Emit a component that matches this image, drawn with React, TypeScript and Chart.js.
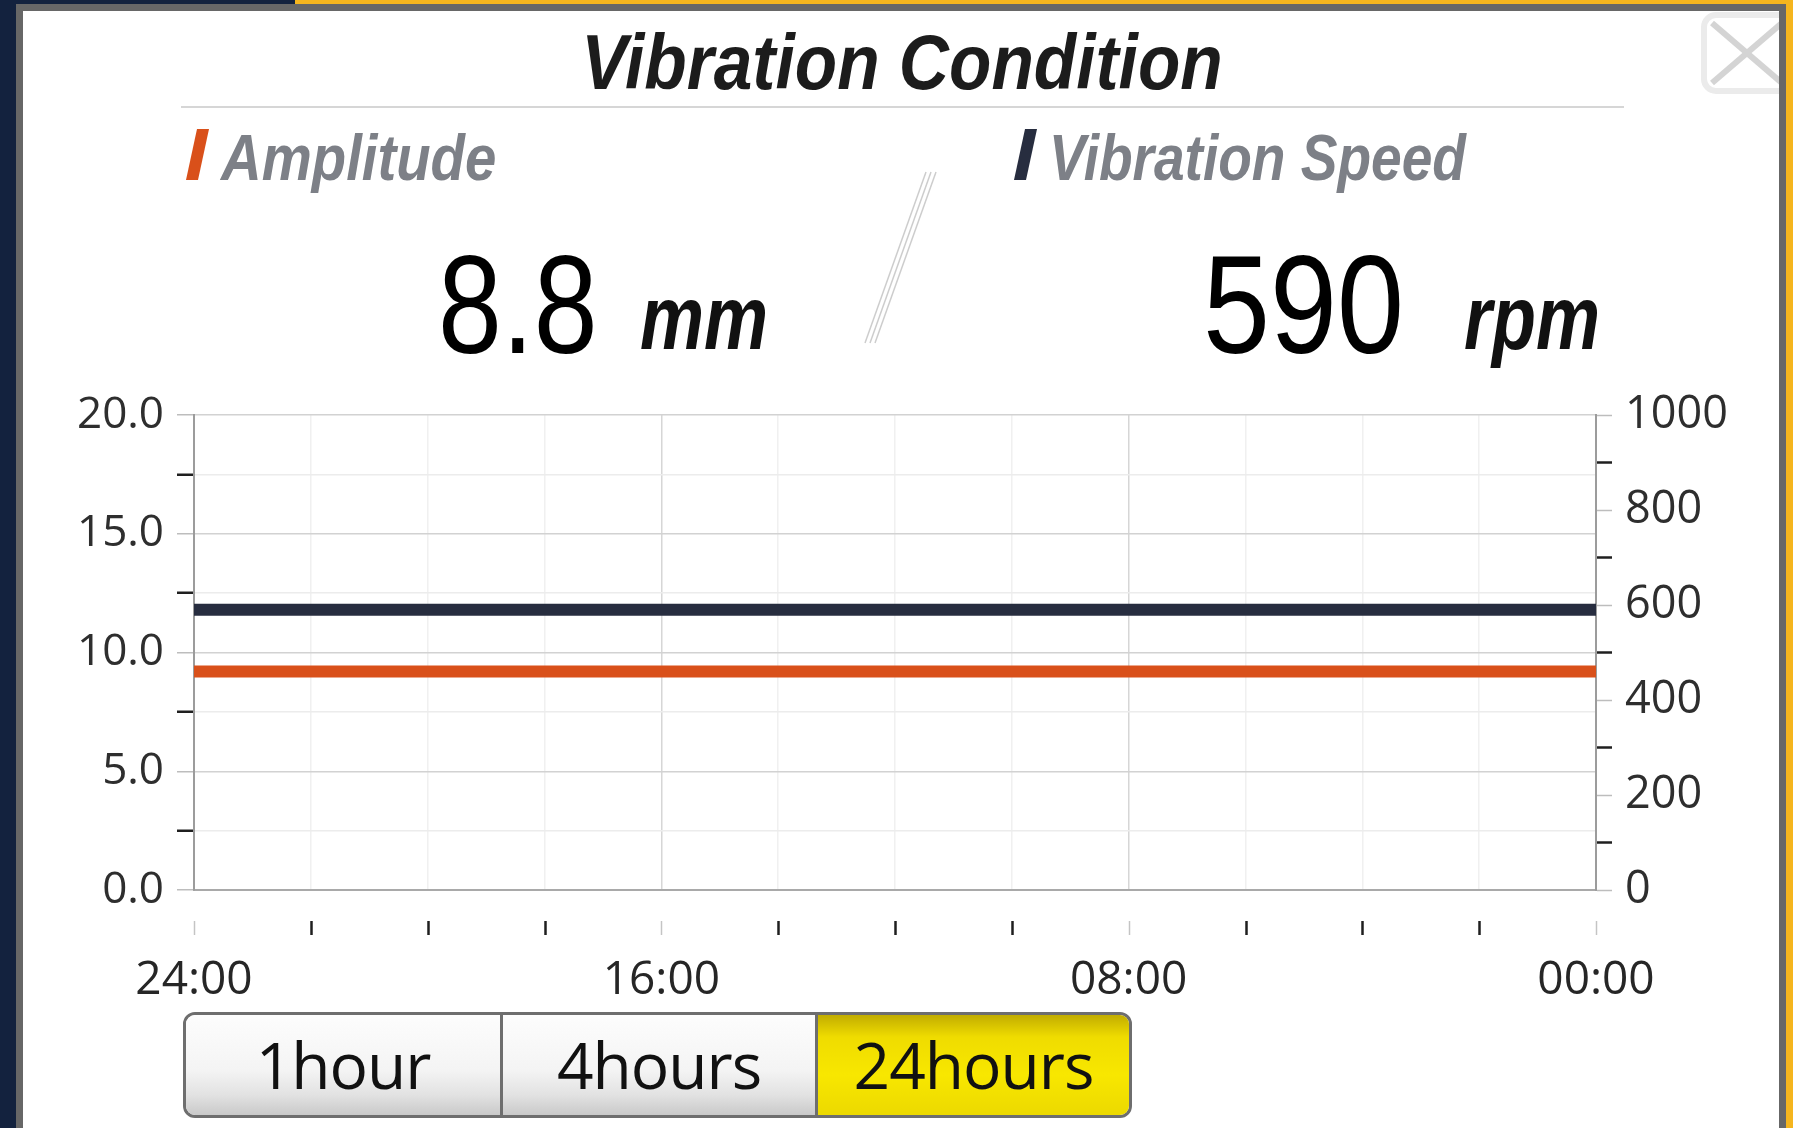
import React, { useEffect, useRef } from 'react';
import { Chart, registerables } from 'chart.js';

Chart.register(...registerables);

// ---------- data ----------
const xHours = [24, 22, 20, 18, 16, 14, 12, 10, 8, 6, 4, 2, 0];
const amplitudeMm = [9.2, 9.2, 9.2, 9.2, 9.2, 9.2, 9.2, 9.2, 9.2, 9.2, 9.2, 9.2, 9.2];
const speedRpm = [590, 590, 590, 590, 590, 590, 590, 590, 590, 590, 590, 590, 590];
const xLabelHours = [24, 16, 8, 0];
const xLabelTexts = ['24:00', '16:00', '08:00', '00:00'];
const leftAxisRange = [0, 20];
const leftMajorStep = 5;
const leftMinorStep = 2.5;
const rightAxisRange = [0, 1000];
const rightMajorStep = 200;
const rightMinorStep = 100;
const chartTitle = 'Vibration Condition';
const seriesNames = ['Amplitude', 'Vibration Speed'];
const currentValues = ['8.8', '590'];
const currentUnits = ['mm', 'rpm'];
const rangeButtons = ['1hour', '4hours', '24hours'];
const activeButton = 2;

const ORANGE = '#d9501a';
const NAVY = '#272d3f';

const CANVAS_TOP = 340;
const CANVAS_W = 1793;
const CANVAS_H = 700;

type TxtProps = {
  text: string;
  x: number;
  baseline: number;
  size: number;
  family: string;
  weight?: number;
  italic?: boolean;
  color: string;
  scaleX?: number;
  align?: 'left' | 'center';
  ascentRatio: number;
};

function Txt({ text, x, baseline, size, family, weight = 400, italic = false, color, scaleX = 1, align = 'left', ascentRatio }: TxtProps) {
  const top = baseline - ascentRatio * size;
  const style: React.CSSProperties = {
    position: 'absolute',
    left: x,
    top,
    fontFamily: family,
    fontSize: size,
    lineHeight: `${size}px`,
    fontWeight: weight,
    fontStyle: italic ? 'italic' : 'normal',
    color,
    whiteSpace: 'nowrap',
    transformOrigin: align === 'center' ? '50% 50%' : '0 50%',
    transform: align === 'center' ? `translateX(-50%) scaleX(${scaleX})` : `scaleX(${scaleX})`,
  };
  return <div style={style}>{text}</div>;
}

// Liberation Sans baseline offset with line-height = font-size
const LIB = 0.8465;

const xTickMarks = {
  id: 'xTickMarks',
  afterDraw(chart: any) {
    const xs = chart.scales.x;
    const ctx = chart.ctx;
    const y0 = chart.chartArea.bottom + 31;
    const y1 = chart.chartArea.bottom + 45;
    ctx.save();
    xHours.forEach((h) => {
      const px = Math.round(xs.getPixelForValue(h)) + 0.5;
      const major = xLabelHours.includes(h);
      ctx.strokeStyle = major ? '#c4c4c4' : '#1f1f1f';
      ctx.lineWidth = major ? 1.5 : 2.5;
      ctx.beginPath();
      ctx.moveTo(px, y0);
      ctx.lineTo(px, y1);
      ctx.stroke();
    });
    ctx.restore();
  },
};

function VibrationChart() {
  const ref = useRef<HTMLCanvasElement | null>(null);
  useEffect(() => {
    if (!ref.current) return;
    Chart.defaults.font.family = "'Open Sans', sans-serif";
    const chart = new Chart(ref.current, {
      type: 'line',
      data: {
        datasets: [
          {
            label: seriesNames[1],
            data: xHours.map((h, i) => ({ x: h, y: speedRpm[i] })),
            borderColor: NAVY,
            backgroundColor: NAVY,
            borderWidth: 12,
            borderCapStyle: 'round',
            pointRadius: 0,
            yAxisID: 'y1',
            tension: 0,
          },
          {
            label: seriesNames[0],
            data: xHours.map((h, i) => ({ x: h, y: amplitudeMm[i] })),
            borderColor: ORANGE,
            backgroundColor: ORANGE,
            borderWidth: 12,
            borderCapStyle: 'round',
            pointRadius: 0,
            yAxisID: 'y',
            tension: 0,
          },
        ],
      },
      options: {
        animation: false,
        responsive: false,
        devicePixelRatio: 1,
        layout: { padding: { top: 75, left: 0, right: 0, bottom: 0 } },
        plugins: { legend: { display: false }, tooltip: { enabled: false }, title: { display: false } },
        scales: {
          x: {
            type: 'linear',
            position: 'bottom',
            min: 0,
            max: 24,
            reverse: true,
            afterFit: (s: any) => { s.height = 150; },
            afterBuildTicks: (s: any) => { s.ticks = xHours.map((h) => ({ value: h })); },
            ticks: {
              autoSkip: false,
              maxRotation: 0,
              padding: 63,
              color: '#262626',
              font: { size: 46 },
              callback: (v: any) => {
                const idx = xLabelHours.indexOf(Number(v));
                return idx >= 0 ? xLabelTexts[idx] : '';
              },
            },
            grid: {
              drawTicks: false,
              lineWidth: 1.5,
              color: (c: any) => (xLabelHours.includes(c.tick?.value) ? '#d6d6d6' : '#f0f0f0'),
            },
            border: { display: true, color: '#a9a9a9', width: 2 },
          },
          y: {
            type: 'linear',
            position: 'left',
            min: leftAxisRange[0],
            max: leftAxisRange[1],
            afterFit: (s: any) => { s.width = 194; },
            ticks: {
              stepSize: leftMinorStep,
              autoSkip: false,
              padding: 13,
              color: '#2e2e2e',
              font: { size: 44 },
              callback: (v: any) => (Number(v) % leftMajorStep === 0 ? Number(v).toFixed(1) : ''),
            },
            grid: {
              drawTicks: true,
              tickLength: 17,
              lineWidth: 1.5,
              color: (c: any) => (c.tick && c.tick.value % leftMajorStep === 0 ? '#d2d2d2' : '#ececec'),
              tickColor: (c: any) => (c.tick && c.tick.value % leftMajorStep === 0 ? '#bdbdbd' : '#1f1f1f'),
              tickWidth: (c: any) => (c.tick && c.tick.value % leftMajorStep === 0 ? 1.5 : 2.5),
            },
            border: { display: true, color: '#9c9c9c', width: 2 },
          },
          y1: {
            type: 'linear',
            position: 'right',
            min: rightAxisRange[0],
            max: rightAxisRange[1],
            afterFit: (s: any) => { s.width = 197; },
            ticks: {
              stepSize: rightMinorStep,
              autoSkip: false,
              padding: 13,
              color: '#2e2e2e',
              font: { size: 45 },
              callback: (v: any) => (Number(v) % rightMajorStep === 0 ? String(v) : ''),
            },
            grid: {
              drawOnChartArea: false,
              drawTicks: true,
              tickLength: 16,
              tickColor: (c: any) => (c.tick && c.tick.value % rightMajorStep === 0 ? '#bdbdbd' : '#1f1f1f'),
              tickWidth: (c: any) => (c.tick && c.tick.value % rightMajorStep === 0 ? 1.5 : 2.5),
            },
            border: { display: true, color: '#9c9c9c', width: 2 },
          },
        },
      } as any,
      plugins: [xTickMarks],
    });
    return () => chart.destroy();
  }, []);
  return (
    <canvas
      ref={ref}
      width={CANVAS_W}
      height={CANVAS_H}
      style={{ position: 'absolute', left: 0, top: CANVAS_TOP, width: CANVAS_W, height: CANVAS_H }}
    />
  );
}

export default function App() {
  const btnLefts = [183, 500, 815];
  return (
    <div
      style={{
        position: 'fixed',
        left: 0,
        top: 0,
        width: 1793,
        height: 1128,
        overflow: 'hidden',
        background: '#13223e',
      }}
    >
      {/* yellow strips */}
      <div style={{ position: 'absolute', left: 295, top: 0, width: 1498, height: 5, background: '#f5b51e' }} />
      <div style={{ position: 'absolute', left: 1786, top: 0, width: 7, height: 1128, background: '#f5b51e' }} />
      {/* panel */}
      <div style={{ position: 'absolute', left: 16, top: 4, width: 1770, height: 1300, boxSizing: 'border-box', border: '7px solid #676767', background: '#ffffff' }} />

      {/* close button */}
      <svg style={{ position: 'absolute', left: 1700, top: 11 }} width={79} height={84}>
        <rect x={4} y={4} width={88} height={76} rx={12} ry={12} fill="none" stroke="#ebebeb" strokeWidth={6} />
        <line x1={12} y1={12} x2={82} y2={72} stroke="#d4d4d4" strokeWidth={6} />
        <line x1={82} y1={12} x2={12} y2={72} stroke="#d4d4d4" strokeWidth={6} />
      </svg>

      {/* title */}
      <Txt text={chartTitle} x={902} baseline={89} size={78} scaleX={0.89} align="center" family="'Liberation Sans', Arial, sans-serif" weight={700} italic color="#1c1c1c" ascentRatio={LIB} />
      <div style={{ position: 'absolute', left: 181, top: 106, width: 1443, height: 2, background: '#d6d6d6' }} />

      {/* series labels */}
      <svg style={{ position: 'absolute', left: 0, top: 0 }} width={1793} height={400}>
        <polygon points="197,129 209,129 198,180 186,180" fill={ORANGE} />
        <polygon points="1025,129 1037,129 1026,180 1014,180" fill={NAVY} />
        <line x1={926} y1={172} x2={865} y2={343} stroke="#cdcdcd" strokeWidth={1.5} />
        <line x1={931} y1={172} x2={870} y2={343} stroke="#cdcdcd" strokeWidth={1.5} />
        <line x1={936} y1={172} x2={875} y2={343} stroke="#cdcdcd" strokeWidth={1.5} />
      </svg>
      <Txt text={seriesNames[0]} x={221} baseline={180} size={64} scaleX={0.88} family="'Liberation Sans', Arial, sans-serif" weight={700} italic color="#7d8087" ascentRatio={LIB} />
      <Txt text={seriesNames[1]} x={1049} baseline={180} size={64} scaleX={0.86} family="'Liberation Sans', Arial, sans-serif" weight={700} italic color="#7d8087" ascentRatio={LIB} />

      {/* current values */}
      <Txt text={currentValues[0]} x={438} baseline={354} size={140} scaleX={0.82} family="'Liberation Sans', Arial, sans-serif" color="#000000" ascentRatio={LIB} />
      <Txt text={currentUnits[0]} x={640} baseline={349} size={90} scaleX={0.8} family="'Liberation Sans', Arial, sans-serif" weight={700} italic color="#111111" ascentRatio={LIB} />
      <Txt text={currentValues[1]} x={1203} baseline={354} size={140} scaleX={0.86} family="'Liberation Sans', Arial, sans-serif" color="#000000" ascentRatio={LIB} />
      <Txt text={currentUnits[1]} x={1464} baseline={349} size={90} scaleX={0.8} family="'Liberation Sans', Arial, sans-serif" weight={700} italic color="#111111" ascentRatio={LIB} />

      <VibrationChart />

      {/* range buttons */}
      <div
        style={{
          position: 'absolute',
          left: 183,
          top: 1012,
          width: 949,
          height: 106,
          boxSizing: 'border-box',
          border: '3px solid #6e6e6e',
          borderRadius: 12,
          overflow: 'hidden',
          display: 'flex',
        }}
      >
        {rangeButtons.map((b, i) => (
          <div
            key={b}
            style={{
              width: (i < 2 ? btnLefts[i + 1] : 1132) - btnLefts[i] - (i === 0 ? 3 : 0) - (i === 2 ? 3 : 0),
              height: 100,
              boxSizing: 'border-box',
              borderLeft: i > 0 ? '3px solid #6e6e6e' : 'none',
              background:
                i === activeButton
                  ? 'linear-gradient(to bottom, #c2ad00 0%, #efdc00 22%, #f8e700 60%, #ecd900 100%)'
                  : 'linear-gradient(to bottom, #fdfdfd 0%, #f4f4f4 55%, #e2e2e2 80%, #c9c9c9 100%)',
              textAlign: 'center',
              fontFamily: "'Open Sans', sans-serif",
              fontSize: 64,
              lineHeight: '100px',
              letterSpacing: -1,
              color: '#111111',
              whiteSpace: 'nowrap',
            }}
          >
            {b}
          </div>
        ))}
      </div>
    </div>
  );
}
